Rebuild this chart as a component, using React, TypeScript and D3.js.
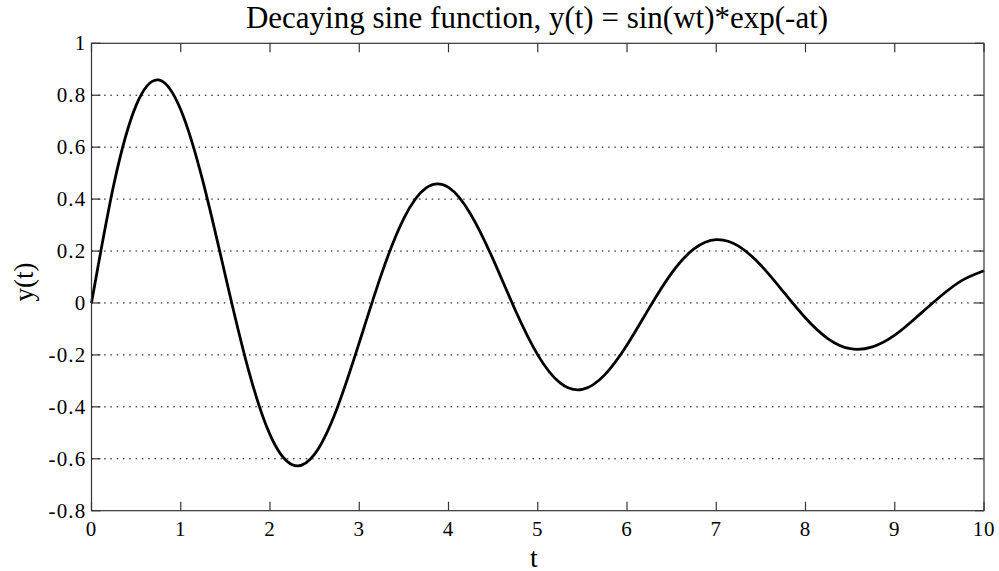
import React from "react";
import * as d3 from "d3";

const tValues = [0, 0.25, 0.5, 0.75, 1, 1.25, 1.5, 1.75, 2, 2.25, 2.5, 2.75, 3, 3.25, 3.5, 3.75, 4, 4.25, 4.5, 4.75, 5, 5.25, 5.5, 5.75, 6, 6.25, 6.5, 6.75, 7, 7.25, 7.5, 7.75, 8, 8.25, 8.5, 8.75, 9, 9.25, 9.5, 9.75, 10];
const yValues = [0, 0.456, 0.761, 0.859, 0.744, 0.466, 0.105, -0.247, -0.507, -0.623, -0.582, -0.407, -0.153, 0.112, 0.326, 0.443, 0.445, 0.341, 0.168, -0.029, -0.2, -0.308, -0.333, -0.277, -0.162, -0.019, 0.115, 0.208, 0.244, 0.219, 0.145, 0.044, -0.058, -0.137, -0.176, -0.169, -0.124, -0.053, 0.022, 0.086, 0.124];
const xTicks = [0, 1, 2, 3, 4, 5, 6, 7, 8, 9, 10];
const yTicks = [-0.8, -0.6, -0.4, -0.2, 0, 0.2, 0.4, 0.6, 0.8, 1];
const gridTicks = [-0.6, -0.4, -0.2, 0, 0.2, 0.4, 0.6, 0.8];

const W = 999, H = 571;
const L = 91.5, R = 984, T = 43.3, B = 510.7;
const FONT = "Liberation Serif, serif";

export default function App() {
  const x = d3.scaleLinear().domain([0, 10]).range([L, R]);
  const y = d3.scaleLinear().domain([-0.8, 1]).range([B, T]);
  const data = tValues.map((t, i) => [t, yValues[i]] as [number, number]);
  const line = d3.line<[number, number]>().x(d => x(d[0])).y(d => y(d[1])).curve(d3.curveNatural);
  const fmt = (v: number) => (Math.abs(v) < 1e-9 ? "0" : String(+v.toFixed(1)));
  const axisColor = "#333";
  const tickLen = 9;
  return (
    <svg width={W} height={H} style={{ position: "absolute", left: 0, top: 0, background: "#fff" }}>
      <rect x={0} y={0} width={W} height={H} fill="#fff" />
      {gridTicks.map(v => (
        <line key={"g" + v} x1={L} x2={R} y1={y(v)} y2={y(v)} stroke="#000" strokeWidth={1} strokeDasharray="1.5,4.8" />
      ))}
      <path d={line(data) || ""} fill="none" stroke="#000" strokeWidth={2.8} strokeLinejoin="round" />
      <rect x={L} y={T} width={R - L} height={B - T} fill="none" stroke={axisColor} strokeWidth={1.2} />
      {xTicks.map(v => (
        <g key={"x" + v}>
          <line x1={x(v)} x2={x(v)} y1={B} y2={B - tickLen} stroke={axisColor} strokeWidth={1.2} />
          <line x1={x(v)} x2={x(v)} y1={T} y2={T + tickLen} stroke={axisColor} strokeWidth={1.2} />
          <text x={x(v)} y={B + 25.5} textAnchor="middle" fontFamily={FONT} fontSize={21} letterSpacing={0.8} fill="#000">{fmt(v)}</text>
        </g>
      ))}
      {yTicks.map(v => (
        <g key={"y" + v}>
          <line x1={L} x2={L + tickLen} y1={y(v)} y2={y(v)} stroke={axisColor} strokeWidth={1.2} />
          <line x1={R} x2={R - tickLen} y1={y(v)} y2={y(v)} stroke={axisColor} strokeWidth={1.2} />
          <text x={L - 5} y={y(v)} dy="0.34em" textAnchor="end" fontFamily={FONT} fontSize={21} letterSpacing={1.2} fill="#000">{fmt(v)}</text>
        </g>
      ))}
      <text x={537} y={27.5} textAnchor="middle" fontFamily={FONT} fontSize={31} fill="#000">Decaying sine function, y(t) = sin(wt)*exp(-at)</text>
      <text x={534} y={566.5} textAnchor="middle" fontFamily={FONT} fontSize={28} fill="#000">t</text>
      <text transform={`translate(33, 282) rotate(-90)`} textAnchor="middle" fontFamily={FONT} fontSize={27} fill="#000">y(t)</text>
    </svg>
  );
}
